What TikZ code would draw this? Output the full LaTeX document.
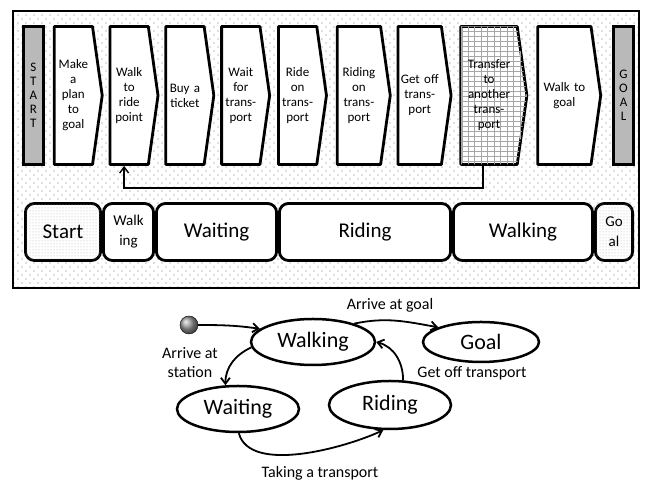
\documentclass[tikz,border=0pt]{standalone}
\usepackage{fontspec}
\setmainfont{Carlito}
\usetikzlibrary{arrows.meta,positioning,shapes.geometric,shapes.symbols,patterns}

\pgfdeclarepatternformonly{sparse dots}{\pgfqpoint{-1pt}{-1pt}}{\pgfqpoint{9pt}{9pt}}{\pgfqpoint{8pt}{8pt}}{
    \pgfpathcircle{\pgfqpoint{2pt}{2pt}}{0.55pt}
    \pgfpathcircle{\pgfqpoint{6pt}{6pt}}{0.55pt}
    \pgfusepath{fill}}
\pgfdeclarepatternformonly{cell grid}{\pgfqpoint{-1pt}{-1pt}}{\pgfqpoint{7.5pt}{6pt}}{\pgfqpoint{6.5pt}{5pt}}{
    \pgfsetlinewidth{0.4pt}
    \pgfpathmoveto{\pgfqpoint{0pt}{0pt}}\pgfpathlineto{\pgfqpoint{6.5pt}{0pt}}
    \pgfpathmoveto{\pgfqpoint{0pt}{0pt}}\pgfpathlineto{\pgfqpoint{0pt}{5pt}}
    \pgfusepath{stroke}}

\tikzset{
    >={Straight Barb[length=6pt,width=9pt]},
    stage/.style={
           signal, signal to=east, signal from=nowhere,
           signal pointer angle=164,
           draw=black, line width=2.8pt, line join=round,
           fill=white,
           minimum height=138pt, minimum width=48pt,
           inner sep=0pt, text width=38pt, align=center,
           font=\fontsize{13}{15}\selectfont},
    endbar/.style={
           rectangle,
           draw=black, line width=2.8pt,
           fill=gray!55,
           minimum height=138pt, minimum width=20pt,
           inner sep=0pt, align=center,
           font=\fontsize{13}{14}\selectfont},
    phase/.style={
           rectangle, rounded corners=9pt,
           draw=black, line width=2.8pt,
           fill=white,
           minimum height=57pt,
           inner sep=0pt, align=center,
           font=\fontsize{21}{24}\selectfont},
    state/.style={
           ellipse,
           draw=black, line width=2.5pt,
           fill=white,
           inner sep=0pt,
           font=\fontsize{22}{26}\selectfont},
    pil/.style={
           ->,
           line width=1.8pt},
    lbl/.style={
           align=center,
           font=\fontsize{16}{19}\selectfont}
}

\begin{document}
\begin{tikzpicture}[x=1pt, y=1pt]
        \useasboundingbox (0,0) rectangle (646,481);

        % frame
        \draw[line width=1.6pt, pattern=sparse dots, pattern color=black!55] (13,193) rectangle (639,470);

        % top row
        \node[endbar, anchor=west] (start) at (22,385.5) {S\\T\\A\\R\\T};
        \node[stage, right=8pt of start] (c1) {Make\\a\\plan\\to\\goal};
        \node[stage, right=5pt of c1] (c2) {Walk\\to\\ride\\point};
        \node[stage, right=5pt of c2] (c3) {Buy a\\ticket};
        \node[stage, right=5pt of c3] (c4) {Wait\\for\\trans-\\port};
        \node[stage, right=6pt of c4] (c5) {Ride\\on\\trans-\\port};
        \node[stage, minimum width=53pt, right=8pt of c5] (c6) {Riding\\on\\trans-\\port};
        \node[stage, minimum width=53pt, right=5pt of c6] (c7) {Get off\\trans-\\port};
        \node[stage, minimum width=66pt, text width=46pt, right=7pt of c7,
              postaction={pattern=cell grid, pattern color=gray!70}] (c8) {Transfer\\to\\another\\trans-\\port};
        \node[stage, minimum width=63pt, text width=46pt, right=8pt of c8] (c9) {Walk to\\goal};
        \node[endbar, right=10pt of c9] (goal) {G\\O\\A\\L};

        \draw[pil, line width=1.4pt] ([xshift=-6pt]c8.south) |- ([xshift=-5pt, yshift=-22pt]c2.south) -- ([xshift=-5pt]c2.south);

        % bottom row
        \node[phase, minimum width=75.2pt, anchor=west,
              postaction={pattern=dots, pattern color=gray!60}] (pstart) at (24,249) {Start};
        \node[phase, minimum width=50.2pt, right=0pt of pstart, font=\fontsize{15}{20}\selectfont] (pwalk1) {Walk\\ing};
        \node[phase, minimum width=120.2pt, right=0pt of pwalk1] (pwait) {Waiting};
        \node[phase, minimum width=171.2pt, right=0pt of pwait] (pride) {Riding};
        \node[phase, minimum width=139.2pt, right=0pt of pride] (pwalk2) {Walking};
        \node[phase, minimum width=37.2pt, right=0pt of pwalk2, font=\fontsize{15}{20}\selectfont,
              postaction={pattern=dots, pattern color=gray!60}] (pgoal) {Go\\al};

        % state diagram
        \node[circle, draw=black, thin, ball color=gray!80, minimum size=18pt, inner sep=0pt] (init) at (189,156) {};
        \node[state, minimum width=124pt, minimum height=46pt] (walk) at (313,139) {Walking};
        \node[state, minimum width=116pt, minimum height=40pt] (gl) at (481,139) {Goal};
        \node[state, minimum width=122pt, minimum height=46pt] (wait) at (238,72) {Waiting};
        \node[state, minimum width=122pt, minimum height=48pt] (ride) at (390,76) {Riding};

        \draw[pil] (init) to[out=0, in=172] (walk.166);
        \draw[pil] (walk.24) to[out=12, in=170] (gl.161);
        \draw[pil] (walk.185) to[out=205, in=90] (wait.118);
        \draw[pil] (wait.272) to[out=-75, in=205, looseness=0.75] (ride.255);
        \draw[pil] (ride.62) to[out=90, in=-15] (walk.east);

        \node[lbl] (lgoal) at (390,176) {Arrive at goal};
        \node[lbl] (lstation) at (190,118) {Arrive at\\station};
        \node[lbl] (loff) at (472,108) {Get off transport};
        \node[lbl] (ltake) at (320,8) {Taking a transport};
\end{tikzpicture}
\end{document}
